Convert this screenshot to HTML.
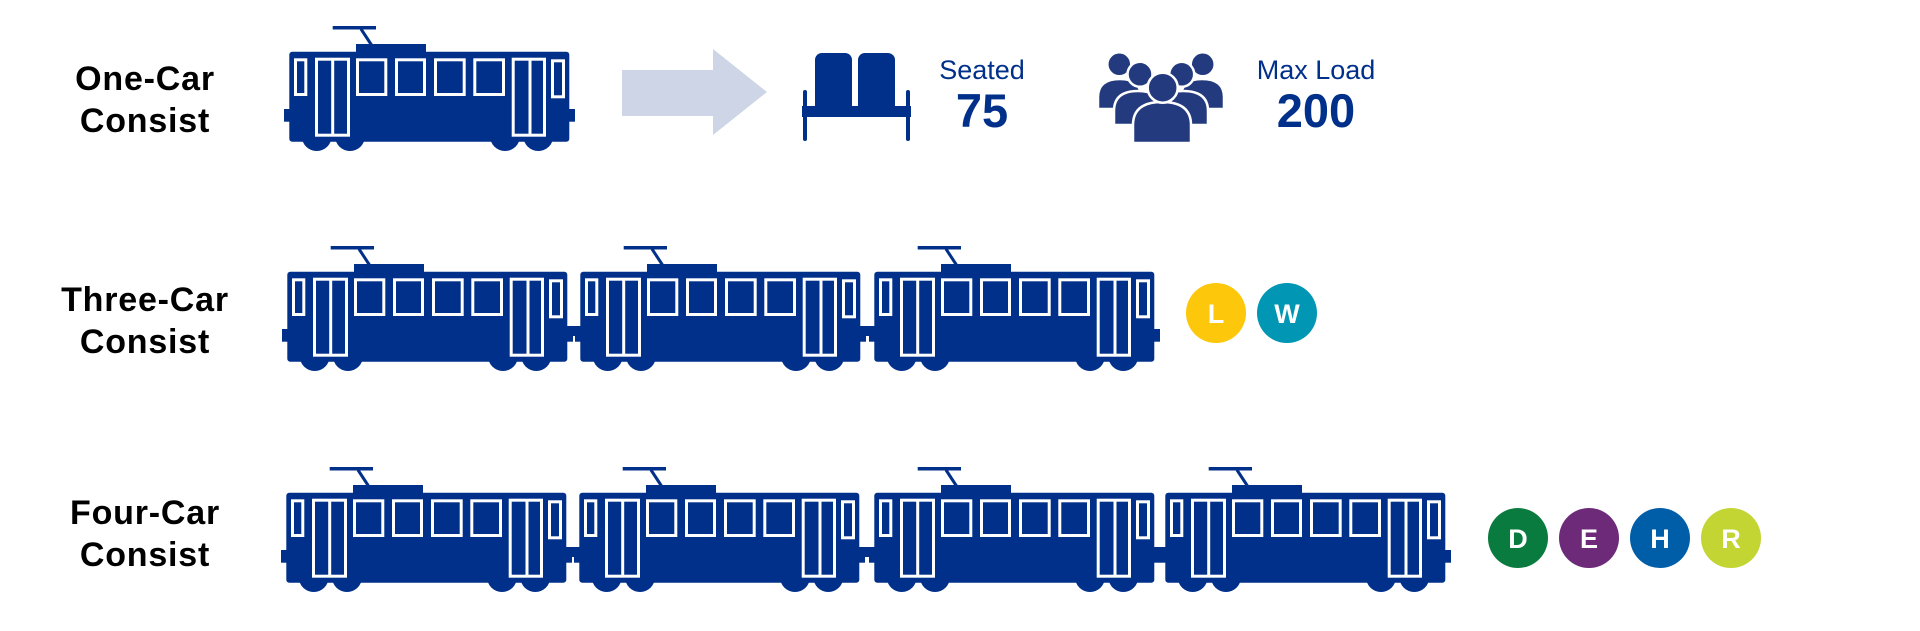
<!DOCTYPE html>
<html><head><meta charset="utf-8"><style>
html,body{margin:0;padding:0;background:#fff;width:1920px;height:631px;overflow:hidden}
svg{display:block}
.lbl{font-family:"Liberation Sans",sans-serif;font-weight:bold;font-size:34px;letter-spacing:0.8px;fill:#000;text-anchor:middle}
.sm{font-family:"Liberation Sans Narrow","Liberation Sans",sans-serif;font-size:27px;fill:#00308a;text-anchor:middle}
.big{font-family:"Liberation Sans",sans-serif;font-weight:bold;font-size:47px;fill:#00308a;text-anchor:middle}
.ct{font-family:"Liberation Sans",sans-serif;font-weight:bold;font-size:27px;fill:#fff;text-anchor:middle}
</style></head><body>
<svg width="1920" height="631" viewBox="0 0 1920 631" xmlns="http://www.w3.org/2000/svg">
<defs>
<g id="tram">
  <rect x="62.7" y="16" width="43.3" height="3.5" fill="#00308a"/>
  <line x1="91" y1="19" x2="101.5" y2="35" stroke="#00308a" stroke-width="3"/>
  <rect x="86" y="34" width="70" height="9" fill="#00308a"/>
  <rect x="19.3" y="41.7" width="280" height="90" rx="3" fill="#00308a"/>
  <rect x="14" y="99" width="7" height="12.7" fill="#00308a"/>
  <rect x="298" y="99" width="7" height="12.7" fill="#00308a"/>
  <circle cx="46.7" cy="126" r="15" fill="#00308a"/>
  <circle cx="80" cy="126" r="15" fill="#00308a"/>
  <circle cx="235" cy="126" r="15" fill="#00308a"/>
  <circle cx="268.3" cy="126" r="15" fill="#00308a"/>
  <g fill="none" stroke="#fff" stroke-width="3">
    <rect x="25.5" y="49.8" width="10.3" height="34.7"/>
    <rect x="46.5" y="49.2" width="32" height="76"/>
    <line x1="62.7" y1="49" x2="62.7" y2="125"/>
    <rect x="87.5" y="49.8" width="28.3" height="34.7"/>
    <rect x="126.5" y="49.8" width="28" height="34.7"/>
    <rect x="165.5" y="49.8" width="28.7" height="34.7"/>
    <rect x="204.8" y="49.8" width="28.7" height="34.7"/>
    <rect x="243.2" y="49.2" width="31.3" height="76"/>
    <line x1="260" y1="49" x2="260" y2="125"/>
    <rect x="282.5" y="50.8" width="11" height="36"/>
  </g>
</g>
</defs>

<text class="lbl" x="145" y="90">One-Car</text>
<text class="lbl" x="145" y="132">Consist</text>
<text class="lbl" x="145" y="311">Three-Car</text>
<text class="lbl" x="145" y="353">Consist</text>
<text class="lbl" x="145" y="524">Four-Car</text>
<text class="lbl" x="145" y="566">Consist</text>

<use href="#tram" x="270" y="10"/>

<use href="#tram" x="268" y="230"/>
<use href="#tram" x="561" y="230"/>
<use href="#tram" x="855" y="230"/>
<rect x="562" y="326" width="20" height="10" fill="#00308a"/>
<rect x="856" y="326" width="20" height="10" fill="#00308a"/>

<use href="#tram" x="267" y="451"/>
<use href="#tram" x="560" y="451"/>
<use href="#tram" x="855" y="451"/>
<use href="#tram" x="1146" y="451"/>
<rect x="563" y="547" width="18" height="10" fill="#00308a"/>
<rect x="857" y="547" width="18" height="10" fill="#00308a"/>
<rect x="1150" y="547" width="18" height="10" fill="#00308a"/>

<polygon points="622,70 713,70 713,49 767,92 713,135 713,116 622,116" fill="#cdd5e6"/>

<g fill="#00308a">
  <rect x="815" y="53" width="37" height="62" rx="7"/>
  <rect x="858" y="53" width="37" height="62" rx="7"/>
  <rect x="802" y="106" width="109" height="11"/>
  <rect x="803" y="90" width="4" height="51" rx="2"/>
  <rect x="906" y="90" width="4" height="51" rx="2"/>
</g>
<text class="sm" x="982" y="79">Seated</text>
<text class="big" x="982" y="127">75</text>

<g transform="translate(1080,45)" fill="#243a7e" stroke="#fff" stroke-width="2.5">
  <path d="M18,64 L18,52 Q18,34 40,34 Q61,34 61,52 L61,64 Z"/>
  <path d="M101,64 L101,52 Q101,34 122,34 Q144,34 144,52 L144,64 Z"/>
  <circle cx="39.3" cy="19.3" r="12"/>
  <circle cx="122.7" cy="19.3" r="12"/>
  <path d="M34,80 L34,66 Q34,46 58,46 Q83,46 83,66 L83,80 Z"/>
  <path d="M79,80 L79,66 Q79,46 103,46 Q128,46 128,66 L128,80 Z"/>
  <circle cx="60" cy="29.3" r="12.5"/>
  <circle cx="101.7" cy="29.3" r="12.5"/>
  <path d="M53,98 L53,80 Q53,57 82,57 Q111,57 111,80 L111,98 Z"/>
  <circle cx="82.7" cy="42.7" r="15"/>
</g>
<text class="sm" x="1316" y="79">Max Load</text>
<text class="big" x="1316" y="127">200</text>

<circle cx="1216" cy="313" r="30" fill="#fdc80b"/><text class="ct" x="1216" y="323">L</text>
<circle cx="1287" cy="313" r="30" fill="#0096b4"/><text class="ct" x="1287" y="323">W</text>

<circle cx="1518" cy="538" r="30" fill="#0a7b3e"/><text class="ct" x="1518" y="548">D</text>
<circle cx="1589" cy="538" r="30" fill="#6c2a78"/><text class="ct" x="1589" y="548">E</text>
<circle cx="1660" cy="538" r="30" fill="#005da8"/><text class="ct" x="1660" y="548">H</text>
<circle cx="1731" cy="538" r="30" fill="#c2d533"/><text class="ct" x="1731" y="548">R</text>
</svg>
</body></html>
